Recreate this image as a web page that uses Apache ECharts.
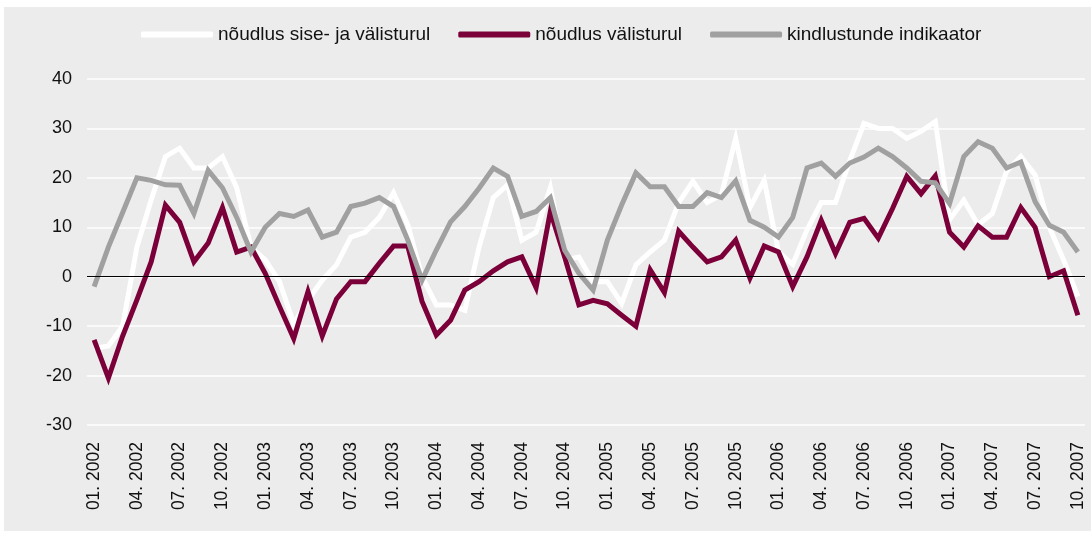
<!DOCTYPE html>
<html>
<head>
<meta charset="utf-8">
<script src="https://cdn.jsdelivr.net/npm/echarts@6/dist/echarts.min.js"></script>
<style>
    html, body { margin: 0; padding: 0; background: #fff; }
    #demand_con { position: absolute; left: 4px; top: 7px; width: 1087px; height: 524px; background: #ececec; }
</style>
</head>
<body>
<div id="demand_con"></div>
<script>
// kuud 01.2002 ... 10.2007
var years = [2002, 2003, 2004, 2005, 2006, 2007];
var months = ['01', '02', '03', '04', '05', '06', '07', '08', '09', '10', '11', '12'];
var categories = [];
years.forEach(function (y) {
    months.forEach(function (m) {
        if (y === 2007 && Number(m) > 10) return;
        categories.push(m + '. ' + y);
    });
});

var seriesNames = ['nõudlus sise- ja välisturul', 'nõudlus välisturul', 'kindlustunde indikaator'];

var demandTotal = [-14.5, -14, -10, 6, 15.5, 24.3, 26, 22, 22, 24.3, 18, 6, 3.4, -1, -9.5, -4.7, -0.7, 2.4, 8, 9, 12, 17, 10.5, 0, -5.7, -5.7, -6.8, 6, 16, 18.6, 7.4, 9, 18, 3.4, 4, -1, -1, -5.4, 2.4, 5, 7.4, 15, 19.3, 15, 16.6, 28, 14, 19.5, 5, 2.5, 9.5, 15, 15, 23.5, 31, 30, 30, 28, 29.4, 31.4, 11.5, 15.5, 10.5, 12.8, 21.3, 24.3, 20.6, 10, 3.4, -4];

var demandExport = [-12.8, -20.5, -12, -4.7, 3, 14.5, 11, 3, 6.8, 14, 5, 6, 0.7, -6, -12.5, -3, -12, -4.5, -1, -1, 2.7, 6.2, 6.2, -5, -11.8, -8.8, -2.7, -1, 1.2, 3, 4, -2.2, 13.2, 4, -5.7, -4.8, -5.5, -7.8, -10, 1.4, -3.2, 9.2, 6, 3, 4, 7.4, -0.3, 6.2, 5, -2, 4, 11.4, 4.7, 11, 11.8, 7.8, 13.8, 20.3, 16.8, 20.4, 9, 6, 10.3, 8, 8, 14, 10, 0, 1.2, -7.8];

var confidence = [-2, 6, 13, 20, 19.5, 18.6, 18.5, 12.8, 21.5, 18, 12, 5, 10, 12.8, 12.2, 13.5, 8, 9, 14.2, 14.9, 16, 14.2, 7.4, -0.7, 5.4, 11.1, 14.2, 17.9, 22, 20.3, 12.2, 13.2, 16, 5.4, 0.7, -2.7, 7.4, 14.5, 21, 18.2, 18.2, 14.2, 14.2, 17, 16, 19.4, 11.4, 10, 8, 12, 22, 23, 20.3, 23, 24.2, 26, 24.3, 22, 19.3, 19, 14.8, 24.3, 27.3, 26, 22, 23.2, 15.2, 10.4, 9, 5];

var colors = ['#ffffff', '#7b0039', '#a0a0a0'];

var chart = echarts.init(document.getElementById('demand_con'));

function lineSeries(name, data, color) {
    return {
        name: name,
        type: 'line',
        data: data,
        symbol: 'none',
        smooth: false,
        lineStyle: { color: color, width: 5, join: 'miter', cap: 'butt' },
        itemStyle: { color: color }
    };
}

var series = [
    lineSeries(seriesNames[0], demandTotal, colors[0]),
    lineSeries(seriesNames[1], demandExport, colors[1]),
    lineSeries(seriesNames[2], confidence, colors[2])
];
// nulljoon
series[0].markLine = {
    silent: true,
    symbol: 'none',
    label: { show: false },
    lineStyle: { color: '#000', width: 1, type: 'solid' },
    data: [{ yAxis: 0 }]
};

var option = {
    animation: false,
    textStyle: { fontFamily: 'Liberation Sans, Arial, sans-serif' },
    legend: {
        top: 13,
        left: 132,
        itemWidth: 72,
        itemHeight: 6,
        itemGap: 28,
        icon: 'roundRect',
        textStyle: { fontSize: 19, color: '#111' },
        data: seriesNames
    },
    grid: {
        top: 72,
        left: 83,
        right: 6,
        bottom: 106
    },
    xAxis: {
        type: 'category',
        data: categories,
        boundaryGap: true,
        axisLine: { show: false },
        axisTick: { show: false },
        axisLabel: {
            interval: 2,
            rotate: 90,
            margin: 17,
            fontSize: 17.5,
            color: '#111'
        }
    },
    yAxis: {
        type: 'value',
        min: -30,
        max: 40,
        interval: 10,
        axisLine: { show: false },
        axisTick: { show: false },
        axisLabel: { fontSize: 18, color: '#111', margin: 15 },
        splitLine: { lineStyle: { color: '#ffffff', width: 1.5 } }
    },
    series: series
};
chart.setOption(option);
</script>
</body>
</html>
